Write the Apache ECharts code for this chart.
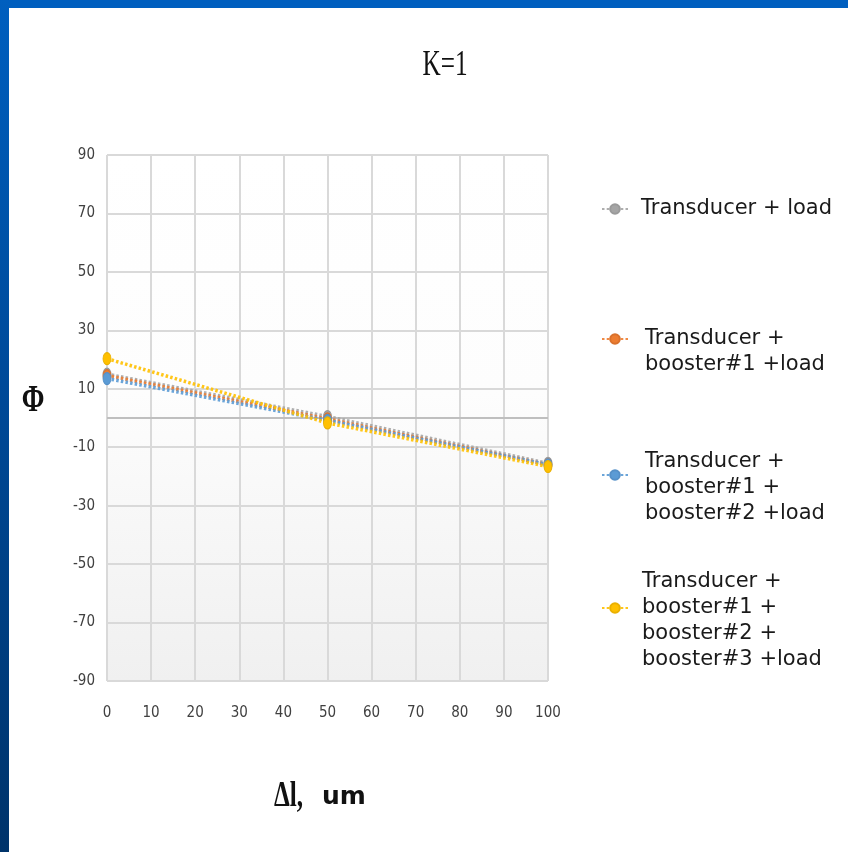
<!DOCTYPE html>
<html>
<head>
<meta charset="utf-8">
<style>
  html, body { margin: 0; padding: 0; background: #ffffff; }
  #frameTop { position: absolute; left: 0; top: 0; width: 848px; height: 8px; background: #005fbf; }
  #frameLeft { position: absolute; left: 0; top: 0; width: 9px; height: 852px;
    background: linear-gradient(to bottom, #005fbf 0%, #004a99 45%, #00336a 100%); }
  #chart { position: absolute; left: 0; top: 0; width: 848px; height: 852px; }
</style>
<script src="https://cdn.jsdelivr.net/npm/echarts@6/dist/echarts.min.js"></script>
</head>
<body>
<div id="chart"></div>
<div id="frameTop"></div>
<div id="frameLeft"></div>
<script>
// Displacement Δl (um) at which phase was evaluated
const deltaL = [0, 50, 100];

// Phase Φ for each configuration
const phiTransducerLoad = [15, 0.5, -15.5];
const phiBooster1 = [14.5, -0.3, -16];
const phiBooster12 = [13.5, -0.8, -16];
const phiBooster123 = [20.3, -1.7, -16.6];

// Axis ticks
const yTicks = { min: -90, max: 90, step: 20 };
const xTicks = { min: 0, max: 100, step: 10 };

const seriesNames = [
  'Transducer + load',
  'Transducer +\nbooster#1 +load',
  'Transducer +\nbooster#1 +\nbooster#2 +load',
  'Transducer +\nbooster#1 +\nbooster#2 +\nbooster#3 +load'
];
const seriesValues = [phiTransducerLoad, phiBooster1, phiBooster12, phiBooster123];
const seriesColors = ['#a5a5a5', '#ed7d31', '#5b9bd5', '#ffc000'];
const borderColors = ['#9a9a9a', '#d9712c', '#5590c8', '#eab000'];

const narrow = '"Liberation Sans Narrow", "DejaVu Sans Condensed", "Liberation Sans", sans-serif';
const legendFont = '"DejaVu Sans", Verdana, sans-serif';

const chart = echarts.init(document.getElementById('chart'), null, { renderer: 'canvas' });

const series = seriesValues.map((vals, i) => ({
  name: seriesNames[i],
  type: 'line',
  data: deltaL.map((x, j) => [x, vals[j]]),
  symbol: 'circle',
  symbolSize: [8, 12],
  showSymbol: true,
  itemStyle: { color: seriesColors[i], borderColor: borderColors[i], borderWidth: 1 },
  lineStyle: { color: seriesColors[i], width: 3.5, type: [2.5, 2.2], opacity: 0.9 },
  z: 3 + i,
  silent: true
}));

// zero reference line across the plot
series[0].markLine = {
  silent: true,
  symbol: ['none', 'none'],
  label: { show: false },
  lineStyle: { color: '#bfbfbf', width: 2, type: 'solid' },
  data: [{ yAxis: 0 }],
  z: 1
};

// legend blocks stacked on the right; a leading blank line keeps the
// icon level with the first or second text line
const legendTops = [191, 295, 418, 538];
const legendLead = [0, 1, 1, 1];
const legendTextPad = [8, 12, 12, 9];
const legends = seriesNames.map((n, i) => ({
  data: [n],
  left: 596,
  top: legendTops[i],
  orient: 'vertical',
  itemWidth: 26,
  itemHeight: 12,
  selectedMode: false,
  formatter: (name) => (legendLead[i] ? ' \n' : '') + name,
  textStyle: {
    fontFamily: legendFont,
    fontSize: 21,
    lineHeight: 26,
    color: '#1a1a1a',
    padding: [0, 0, 0, legendTextPad[i]]
  }
}));

chart.setOption({
  animation: false,
  backgroundColor: 'transparent',
  grid: {
    left: 107, right: 300, top: 155, bottom: 171,
    show: true,
    borderWidth: 0,
    backgroundColor: new echarts.graphic.LinearGradient(0, 0, 0, 1, [
      { offset: 0, color: '#ffffff' },
      { offset: 0.45, color: '#fdfdfd' },
      { offset: 1, color: '#f0f0f0' }
    ])
  },
  xAxis: {
    type: 'value',
    min: xTicks.min, max: xTicks.max, interval: xTicks.step,
    axisLine: { show: false },
    axisTick: { show: false },
    splitLine: { show: true, lineStyle: { color: '#d9d9d9', width: 2 } },
    axisLabel: { margin: 25, fontFamily: narrow, fontSize: 15, color: '#404040' }
  },
  yAxis: {
    type: 'value',
    min: yTicks.min, max: yTicks.max, interval: yTicks.step,
    axisLine: { show: false },
    axisTick: { show: false },
    splitLine: { show: true, lineStyle: { color: '#d9d9d9', width: 2 } },
    axisLabel: { margin: 12, fontFamily: narrow, fontSize: 15, color: '#404040' }
  },
  legend: legends,
  graphic: [
    {
      type: 'text', x: 445, y: 66, scaleX: 0.7,
      style: { text: 'K=1', font: '36px "Liberation Serif", serif', fill: '#111',
        align: 'center', verticalAlign: 'middle' }
    },
    {
      type: 'text', x: 33, y: 401, scaleX: 0.72,
      style: { text: 'Φ', font: 'bold 38px "Liberation Serif", serif', fill: '#111',
        align: 'center', verticalAlign: 'middle' }
    },
    {
      type: 'text', x: 274, y: 797, scaleX: 0.7,
      style: { text: 'Δl,', font: 'bold 36px "Liberation Serif", serif', fill: '#111',
        align: 'left', verticalAlign: 'middle' }
    },
    {
      type: 'text', x: 322, y: 797,
      style: { text: 'um', font: 'bold 25px "DejaVu Sans", Verdana, sans-serif', fill: '#111',
        align: 'left', verticalAlign: 'middle' }
    }
  ],
  series: series
});
</script>
</body>
</html>
